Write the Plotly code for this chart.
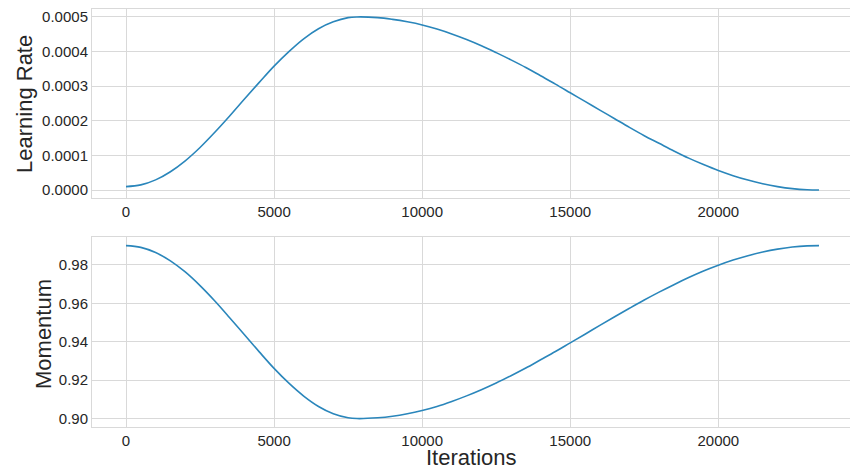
import plotly.graph_objects as go

# Values
iterations = [0, 500, 1000, 1500, 2000, 2500, 3000, 3500, 4000, 4500, 5000, 5500, 6000,
              6500, 7000, 7500, 7800, 8500, 9000, 9500, 10000, 10500, 11000, 11500,
              12000, 12500, 13000, 13500, 14000, 14500, 15000, 15500, 16000, 16500,
              17000, 17500, 18000, 18500, 19000, 19500, 20000, 20500, 21000, 21500,
              22000, 22500, 23000, 23400]
learning_rate = [0.0000100, 0.0000149, 0.0000294, 0.0000530, 0.0000845, 0.000123,
                 0.000167, 0.000214, 0.000263, 0.000311, 0.000358, 0.000400, 0.000437,
                 0.000466, 0.000486, 0.000498, 0.000500, 0.000498, 0.000493, 0.000486,
                 0.000477, 0.000465, 0.000451, 0.000435, 0.000417, 0.000397, 0.000376,
                 0.000354, 0.000330, 0.000306, 0.000281, 0.000256, 0.000231, 0.000206,
                 0.000181, 0.000157, 0.000135, 0.000113, 0.0000922, 0.0000736,
                 0.0000565, 0.0000416, 0.0000288, 0.0000182, 0.0000100, 0.0000041,
                 0.0000008, 0.0000000]
momentum = [0.9900, 0.9891, 0.9864, 0.9821, 0.9763, 0.9692, 0.9612, 0.9525, 0.9436,
            0.9347, 0.9261, 0.9184, 0.9117, 0.9063, 0.9025, 0.9004, 0.9000, 0.9004,
            0.9012, 0.9025, 0.9042, 0.9063, 0.9089, 0.9118, 0.9150, 0.9185, 0.9223,
            0.9263, 0.9306, 0.9349, 0.9394, 0.9439, 0.9485, 0.9530, 0.9574, 0.9617,
            0.9658, 0.9697, 0.9734, 0.9768, 0.9798, 0.9825, 0.9848, 0.9867, 0.9882,
            0.9893, 0.9899, 0.9900]

x_ticks = [0, 5000, 10000, 15000, 20000]
lr_ticks = [0.0000, 0.0001, 0.0002, 0.0003, 0.0004, 0.0005]
mom_ticks = [0.90, 0.92, 0.94, 0.96, 0.98]

LINE = "#2a86bb"
GRID = "#d9d9d9"
FONT = "Liberation Sans, Arial, sans-serif"
TXT = "#262626"

fig = go.Figure()
fig.add_trace(go.Scatter(x=iterations, y=learning_rate, mode="lines",
                         line=dict(color=LINE, width=1.6, shape="spline", smoothing=1.0),
                         xaxis="x", yaxis="y", showlegend=False))
fig.add_trace(go.Scatter(x=iterations, y=momentum, mode="lines",
                         line=dict(color=LINE, width=1.6, shape="spline", smoothing=1.0),
                         xaxis="x2", yaxis="y2", showlegend=False))

xcommon = dict(range=[-1148, 24447], tickvals=x_ticks, ticktext=[str(v) for v in x_ticks],
               showgrid=True, gridcolor=GRID, gridwidth=1, zeroline=False,
               showline=True, linecolor=GRID, linewidth=1, mirror=True,
               ticks="", tickfont=dict(family=FONT, size=15, color=TXT))
ycommon = dict(showgrid=True, gridcolor=GRID, gridwidth=1, zeroline=False,
               showline=True, linecolor=GRID, linewidth=1, mirror=True,
               ticks="", tickfont=dict(family=FONT, size=15, color=TXT))

fig.update_layout(
    width=850, height=470,
    margin=dict(l=92, r=0, t=9, b=43),
    paper_bgcolor="white", plot_bgcolor="white",
    xaxis=dict(**xcommon, domain=[0, 1], anchor="y"),
    yaxis=dict(**ycommon, domain=[0.5478, 1], anchor="x",
               range=[-0.000023, 0.000523], tickvals=lr_ticks,
               ticktext=[f"{v:.4f}" for v in lr_ticks]),
    xaxis2=dict(**xcommon, domain=[0, 1], anchor="y2"),
    yaxis2=dict(**ycommon, domain=[0, 0.4545], anchor="x2",
                range=[0.8956, 0.9945], tickvals=mom_ticks,
                ticktext=[f"{v:.2f}" for v in mom_ticks]),
    annotations=[
        dict(text="Learning Rate", textangle=-90, xref="paper", yref="paper",
             x=-92 / 758 + 24 / 758, y=(470 - 43 - 104) / 418, xanchor="center", yanchor="middle",
             showarrow=False, font=dict(family=FONT, size=22, color=TXT)),
        dict(text="Momentum", textangle=-90, xref="paper", yref="paper",
             x=-92 / 758 + 43 / 758, y=(470 - 43 - 334) / 418, xanchor="center", yanchor="middle",
             showarrow=False, font=dict(family=FONT, size=22, color=TXT)),
        dict(text="Iterations", xref="paper", yref="paper",
             x=(471 - 92) / 758, y=(470 - 43 - 457) / 418, xanchor="center", yanchor="middle",
             showarrow=False, font=dict(family=FONT, size=22, color=TXT)),
    ],
)

fig.write_html("out.html", config={"displayModeBar": False})

# remove the browser's default body margin so the figure sits at the page origin
with open("out.html", "r", encoding="utf-8") as fh:
    html = fh.read()
html = html.replace("<body>", '<body style="margin:0;padding:0;overflow:hidden;">', 1)
with open("out.html", "w", encoding="utf-8") as fh:
    fh.write(html)
